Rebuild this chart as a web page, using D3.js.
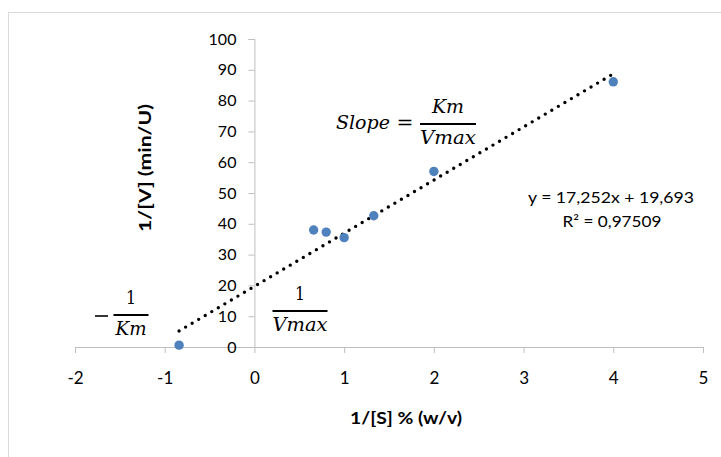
<!DOCTYPE html>
<html>
<head>
<meta charset="utf-8">
<script src="https://cdn.jsdelivr.net/npm/d3@7"></script>
<style>
  body { margin: 0; background: #fff; }
  svg { display: block; }
</style>
</head>
<body>
<div class="chart"></div>
<script>
// Lineweaver-Burk plot, values

const width = 721
const height = 457

const invS = [-0.84, 0.66, 0.80, 1.00, 1.33, 2.00, 4.00]
const invV = [0.6, 38.0, 37.3, 35.5, 42.6, 57.0, 86.1]

const xTicks = [-2, -1, 0, 1, 2, 3, 4, 5]
const yTicks = [0, 10, 20, 30, 40, 50, 60, 70, 80, 90, 100]

// trendline as printed on the chart
const slope = 17.252
const intercept = 19.693
const eqLabel = "y = 17,252x + 19,693"
const r2Label = "R² = 0,97509"

const x = d3.scaleLinear().domain([-2, 5]).range([75, 703])
const y = d3.scaleLinear().domain([0, 100]).range([347, 39])

const svg = d3.select('.chart').append('svg')
    .attr("width", width)
    .attr("height", height)
    .style("font-family", "Lato, 'Open Sans', sans-serif")

// chart frame
svg.append("rect")
    .attr("x", 8.5).attr("y", 12.5)
    .attr("width", 800).attr("height", 600)
    .attr("fill", "none")
    .attr("stroke", "#d9d9d9")

// excel prints a plain hyphen, not the unicode minus
const xAxis = svg.append("g")
    .attr("transform", `translate(0,${y(0)})`)
    .call(d3.axisBottom(x).tickValues(xTicks).tickSize(6).tickFormat(d => String(d)))

xAxis.selectAll("text")
    .attr("y", 37).attr("dy", 0)
    .attr("font-size", 17)

const yAxis = svg.append("g")
    .attr("transform", `translate(${x(0)},0)`)
    .call(d3.axisLeft(y).tickValues(yTicks).tickSize(6).tickPadding(12))

yAxis.selectAll("text").attr("font-size", 16)

svg.selectAll(".domain, .tick line").attr("stroke", "#bfbfbf")
svg.selectAll(".tick text").attr("fill", "#000").attr("font-family", "Lato, sans-serif")

// axis titles
svg.append("text")
    .attr("transform", "translate(151,168) rotate(-90)")
    .attr("text-anchor", "middle")
    .attr("font-weight", "bold")
    .attr("font-size", 17)
    .attr("textLength", 128)
    .attr("lengthAdjust", "spacingAndGlyphs")
    .text("1/[V] (min/U)")

svg.append("text")
    .attr("x", 406).attr("y", 424)
    .attr("text-anchor", "middle")
    .attr("font-weight", "bold")
    .attr("font-size", 17)
    .attr("textLength", 112)
    .attr("lengthAdjust", "spacingAndGlyphs")
    .text("1/[S] % (w/v)")

// dotted trendline across the data range
const xr = d3.extent(invS)
svg.append("line")
    .attr("x1", x(xr[0])).attr("y1", y(slope * xr[0] + intercept))
    .attr("x2", x(xr[1])).attr("y2", y(slope * xr[1] + intercept))
    .attr("stroke", "#000")
    .attr("stroke-width", 3.4)
    .attr("stroke-linecap", "round")
    .attr("stroke-dasharray", "0 7.6")

svg.append("g")
    .selectAll("circle")
    .data(invS.map((d, i) => [d, invV[i]]))
    .join("circle")
    .attr("cx", d => x(d[0]))
    .attr("cy", d => y(d[1]))
    .attr("r", 4.7)
    .attr("fill", "#4f81bd")

// equation + R²
const eq = svg.append("g")
    .attr("font-size", 15.5)
    .attr("text-anchor", "middle")
eq.append("text").attr("x", 611).attr("y", 203)
    .attr("textLength", 166).attr("lengthAdjust", "spacingAndGlyphs")
    .text(eqLabel)
eq.append("text").attr("x", 612).attr("y", 227)
    .attr("textLength", 99).attr("lengthAdjust", "spacingAndGlyphs")
    .text(r2Label)

// math annotations (Cambria Math look-alike)
const mathFont = "'DejaVu Serif', 'Liberation Serif', serif"

function txt(g, cx, base, s, w, italic) {
    return g.append("text").attr("x", cx).attr("y", base)
        .attr("text-anchor", "middle")
        .attr("font-style", italic ? "italic" : "normal")
        .attr("textLength", w).attr("lengthAdjust", "spacingAndGlyphs")
        .text(s)
}

function frac(g, cx, top, num, den, barW, numW, denW, numItalic) {
    txt(g, cx, top, num, numW, numItalic)
    g.append("line")
        .attr("x1", cx - barW / 2).attr("x2", cx + barW / 2)
        .attr("y1", top + 11).attr("y2", top + 11)
        .attr("stroke", "#000").attr("stroke-width", 2.2)
    txt(g, cx, top + 31, den, denW, true)
}

const slopeG = svg.append("g")
    .attr("font-family", mathFont)
    .attr("font-size", 18)
txt(slopeG, 363, 129, "Slope", 54, true)
txt(slopeG, 405, 129, "=", 17, false)
frac(slopeG, 448, 113, "Km", "Vmax", 56, 32, 56, true)

const kmG = svg.append("g")
    .attr("font-family", mathFont)
    .attr("font-size", 18)
kmG.append("line")
    .attr("x1", 95).attr("x2", 108)
    .attr("y1", 316).attr("y2", 316)
    .attr("stroke", "#000").attr("stroke-width", 1.6)
frac(kmG, 131, 304, "1", "Km", 35, 10, 31, false)

const vmG = svg.append("g")
    .attr("font-family", mathFont)
    .attr("font-size", 18)
frac(vmG, 300, 300, "1", "Vmax", 55, 10, 55, false)
</script>
</body>
</html>
